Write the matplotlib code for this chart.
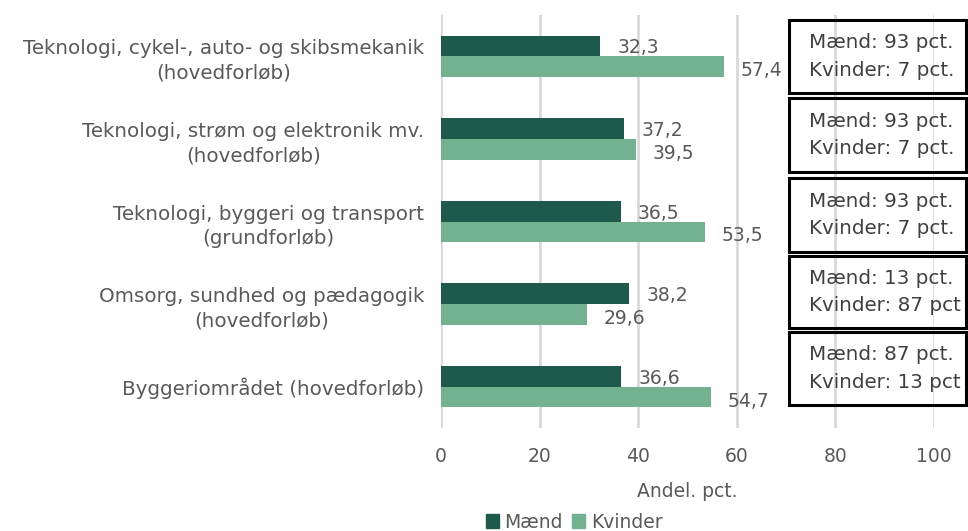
import matplotlib
matplotlib.use("Agg")
import matplotlib.pyplot as plt
from matplotlib.patches import Rectangle
import numpy as np

categories = [
    "Teknologi, cykel-, auto- og skibsmekanik\n(hovedforløb)",
    "Teknologi, strøm og elektronik mv.\n(hovedforløb)",
    "Teknologi, byggeri og transport\n(grundforløb)",
    "Omsorg, sundhed og pædagogik\n(hovedforløb)",
    "Byggeriområdet (hovedforløb)",
]
maend = [32.3, 37.2, 36.5, 38.2, 36.6]
kvinder = [57.4, 39.5, 53.5, 29.6, 54.7]
box_texts = [
    "Mænd: 93 pct.\nKvinder: 7 pct.",
    "Mænd: 93 pct.\nKvinder: 7 pct.",
    "Mænd: 93 pct.\nKvinder: 7 pct.",
    "Mænd: 13 pct.\nKvinder: 87 pct",
    "Mænd: 87 pct.\nKvinder: 13 pct",
]
xticks = [0, 20, 40, 60, 80, 100]

DARK = "#1E5A4B"
LIGHT = "#73B291"
TXT = "#595959"
FONT = ["DejaVu Sans"]
FS = 13.5
FSL = 14.3
plt.rcParams["font.family"] = FONT

W, H = 968, 531
fig = plt.figure(figsize=(W / 100, H / 100), dpi=100)
ax = fig.add_axes([441 / W, 1 - 428 / H, (934 - 441) / W, (428 - 15) / H])

y = np.arange(len(categories))
h = 0.25
ax.barh(y - h / 2, maend, height=h, color=DARK, zorder=3)
ax.barh(y + h / 2, kvinder, height=h, color=LIGHT, zorder=3)

for yi, v in zip(y, maend):
    ax.annotate(f"{v:.1f}".replace(".", ","), (v, yi - h / 2), xytext=(17, -2),
                textcoords="offset pixels", va="center", ha="left",
                fontsize=FS, color=TXT)
for yi, v in zip(y, kvinder):
    ax.annotate(f"{v:.1f}".replace(".", ","), (v, yi + h / 2), xytext=(17, -4),
                textcoords="offset pixels", va="center", ha="left",
                fontsize=FS, color=TXT)

ax.set_xlim(0, 100)
ax.set_ylim(len(categories) - 0.5, -0.5)
ax.set_xticks(xticks)
ax.set_yticks(y)
ax.set_yticklabels(categories, fontsize=FSL, color=TXT, multialignment="center")
for lab in ax.get_yticklabels():
    lab.set_linespacing(1.35)
ax.tick_params(axis="x", length=0, pad=14, labelsize=FS, labelcolor=TXT)
ax.tick_params(axis="y", length=0, pad=12)
ax.grid(axis="x", color="#D9D9D9", linewidth=2, zorder=0)
for s in ax.spines.values():
    s.set_visible(False)
ax.set_xlabel("Andel. pct.", fontsize=FS, color=TXT, labelpad=11)

# annotation boxes (figure pixel coords)
boxes = [(20, 93), (98, 172), (178, 252), (256, 328), (332, 405)]
for (t, b), txt in zip(boxes, box_texts):
    r = Rectangle((789 / W, 1 - b / H), (966 - 789) / W, (b - t) / H,
                  transform=fig.transFigure, fill=False, edgecolor="black",
                  linewidth=2.2, zorder=5)
    fig.patches.append(r)
    fig.text(809 / W, 1 - (t + b) / 2 / H, txt, ha="left", va="center",
             fontsize=FSL, color="#404040", linespacing=1.55)

handles = [Rectangle((0, 0), 1, 1, color=DARK), Rectangle((0, 0), 1, 1, color=LIGHT)]
fig.legend(handles, ["Mænd", "Kvinder"], loc="center", bbox_to_anchor=(574 / W, 1 - 522 / H),
           ncol=2, frameon=False, fontsize=FS, handlelength=0.7, handleheight=0.7,
           handletextpad=0.3, columnspacing=0.5, labelcolor=TXT)

fig.savefig("out.png", dpi=100)
